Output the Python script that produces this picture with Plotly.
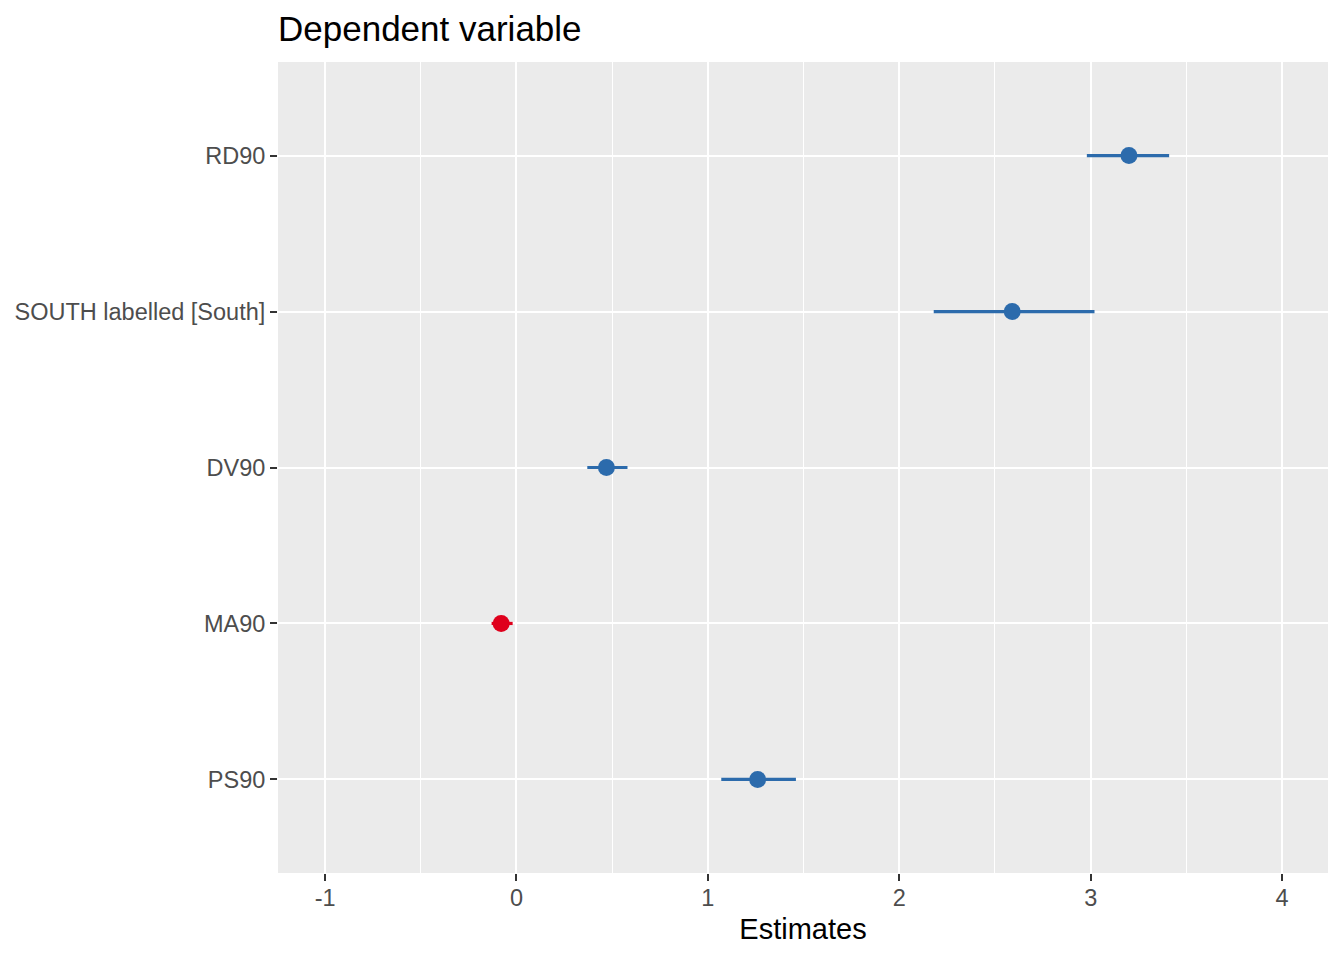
import plotly.graph_objects as go

terms = ["PS90", "MA90", "DV90", "SOUTH labelled [South]", "RD90"]
estimates = [1.26, -0.08, 0.47, 2.59, 3.20]
ci_low = [1.07, -0.13, 0.37, 2.18, 2.98]
ci_high = [1.46, -0.02, 0.58, 3.02, 3.41]
x_ticks = [-1, 0, 1, 2, 3, 4]

pos_color = "#2C6BAC"
neg_color = "#DF001C"
colors = [pos_color if e > 0 else neg_color for e in estimates]

fig = go.Figure()
for t, e, lo, hi, c in zip(terms, estimates, ci_low, ci_high, colors):
    fig.add_trace(go.Scatter(
        x=[e], y=[t], mode="markers",
        marker=dict(color=c, size=17, line=dict(width=0)),
        error_x=dict(type="data", symmetric=False, array=[hi - e], arrayminus=[e - lo],
                     color=c, thickness=3.2, width=0),
        showlegend=False, cliponaxis=False,
    ))

W, H = 1336, 952
fig.update_layout(
    width=W, height=H,
    margin=dict(l=270, r=16, t=54, b=87),
    paper_bgcolor="white", plot_bgcolor="#EBEBEB",
    font=dict(family="Liberation Sans, Arial, sans-serif", color="#4D4D4D"),
    title=dict(text="Dependent variable", x=0, xanchor="left", xref="paper",
               y=1 - 21 / H, yanchor="middle", yref="container",
               font=dict(size=35, color="black")),
)

fig.update_xaxes(
    range=[-1.246, 4.24], tickvals=x_ticks, ticktext=[str(v) for v in x_ticks],
    showgrid=True, gridcolor="white", gridwidth=2.2, zeroline=False,
    ticks="outside", ticklen=7, tickwidth=2, tickcolor="#333333",
    tickfont=dict(size=23.5, color="#4D4D4D"),
    ticklabelstandoff=-3,
    minor=dict(tickvals=[-0.5, 0.5, 1.5, 2.5, 3.5], showgrid=True, gridcolor="white", gridwidth=1.1, ticks=""),
    title=dict(text="Estimates", font=dict(size=29, color="black"), standoff=8),
    showline=False, automargin=False,
)
fig.update_yaxes(
    type="category", categoryorder="array", categoryarray=terms,
    range=[-0.6, 4.6],
    showgrid=True, gridcolor="white", gridwidth=2.2, zeroline=False,
    ticks="outside", ticklen=7, tickwidth=2, tickcolor="#333333",
    tickfont=dict(size=23.5, color="#4D4D4D"),
    ticklabelstandoff=0,
    showline=False, automargin=False,
)

fig.write_html("out.html")
